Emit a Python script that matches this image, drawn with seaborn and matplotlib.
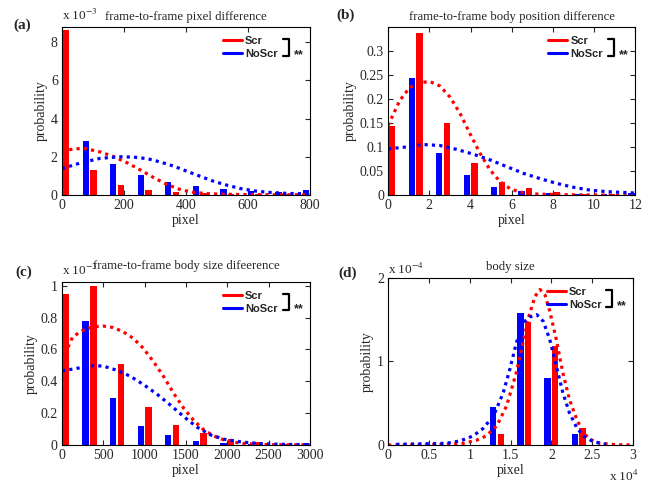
import numpy as np
import matplotlib
matplotlib.use("Agg")
import matplotlib.pyplot as plt
from matplotlib.lines import Line2D
import seaborn as sns

RED = "#ff0000"
BLUE = "#0000ff"

# (a) frame-to-frame pixel difference, probability in units of 1e-3
bins_a = [0, 88.9, 177.8, 266.7, 355.6, 444.4, 533.3, 622.2, 711.1, 800]
scr_a = [8.65, 1.31, 0.54, 0.26, 0.17, 0.08, 0.06, 0.05, 0.04, 0.03]
noscr_a = [0.0, 2.85, 1.60, 1.03, 0.70, 0.49, 0.31, 0.23, 0.15, 0.24]
fit_scr_a_x = [0, 35, 70, 124, 168, 211, 254, 297, 340, 384, 427, 470, 520, 600, 700, 800]
fit_scr_a_y = [2.30, 2.40, 2.45, 2.25, 2.00, 1.68, 1.30, 0.90, 0.54, 0.27, 0.13, 0.07, 0.04, 0.02, 0.01, 0.01]
fit_noscr_a_x = [0, 60, 124, 189, 232, 276, 319, 362, 405, 449, 492, 535, 578, 622, 665, 730, 800]
fit_noscr_a_y = [1.38, 1.68, 1.92, 2.00, 1.98, 1.90, 1.72, 1.50, 1.23, 0.96, 0.70, 0.50, 0.33, 0.21, 0.14, 0.08, 0.06]

# (b) frame-to-frame body position difference
bins_b = [0, 1.333, 2.667, 4.0, 5.333, 6.667, 8.0, 9.333, 10.667, 12]
scr_b = [0.143, 0.338, 0.150, 0.066, 0.027, 0.014, 0.006, 0.003, 0.002, 0.0]
noscr_b = [0.0, 0.243, 0.088, 0.042, 0.017, 0.009, 0.004, 0.003, 0.002, 0.004]
fit_scr_b_x = [0, 0.57, 1.05, 1.54, 2.03, 2.51, 3.0, 3.49, 3.97, 4.46, 4.95, 5.43, 5.92, 6.4, 7.2, 8.5, 10, 12]
fit_scr_b_y = [0.145, 0.197, 0.224, 0.234, 0.236, 0.227, 0.204, 0.170, 0.128, 0.087, 0.052, 0.028, 0.013, 0.006, 0.002, 0.0005, 0.0, 0.0]
fit_noscr_b_x = [0, 0.89, 1.7, 2.51, 3.32, 4.13, 4.95, 5.76, 6.57, 7.38, 8.19, 9.0, 9.81, 10.6, 12]
fit_noscr_b_y = [0.096, 0.100, 0.105, 0.103, 0.095, 0.085, 0.073, 0.059, 0.045, 0.034, 0.024, 0.016, 0.010, 0.007, 0.004]

# (c) frame-to-frame body size difference, units of 1e-3
bins_c = [0, 333.3, 666.7, 1000, 1333.3, 1666.7, 2000, 2333.3, 2666.7, 3000]
scr_c = [0.95, 1.00, 0.508, 0.24, 0.127, 0.073, 0.037, 0.017, 0.008, 0.0]
noscr_c = [0.0, 0.78, 0.293, 0.121, 0.061, 0.027, 0.010, 0.005, 0.003, 0.010]
fit_scr_c_x = [0, 130, 252, 375, 497, 619, 741, 863, 985, 1108, 1230, 1352, 1474, 1596, 1718, 1840, 1963, 2166, 2492, 3000]
fit_scr_c_y = [0.53, 0.68, 0.72, 0.743, 0.747, 0.738, 0.711, 0.67, 0.607, 0.523, 0.43, 0.324, 0.23, 0.153, 0.094, 0.056, 0.031, 0.01, 0.002, 0.0]
fit_noscr_c_x = [0, 171, 334, 497, 660, 822, 985, 1148, 1311, 1474, 1637, 1800, 1963, 2166, 2410, 2695, 3000]
fit_noscr_c_y = [0.466, 0.48, 0.498, 0.496, 0.47, 0.433, 0.38, 0.32, 0.251, 0.178, 0.111, 0.063, 0.036, 0.019, 0.008, 0.004, 0.002]

# (d) body size, x in units of 1e4, probability in units of 1e-4
bins_d = [0, 0.333, 0.667, 1.0, 1.333, 1.667, 2.0, 2.333, 2.667, 3.0]
scr_d = [0, 0, 0, 0, 0.127, 1.47, 1.19, 0.207, 0, 0]
noscr_d = [0, 0, 0, 0, 0.454, 1.574, 0.797, 0.127, 0, 0]
fit_scr_d_x = [0, 0.5, 0.918, 1.08, 1.2, 1.33, 1.45, 1.57, 1.65, 1.73, 1.8, 1.86, 1.92, 1.98, 2.06, 2.14, 2.22, 2.31, 2.39, 2.47, 2.59, 2.8, 3.0]
fit_scr_d_y = [0, 0, 0.02, 0.056, 0.108, 0.227, 0.466, 0.865, 1.22, 1.56, 1.78, 1.86, 1.80, 1.60, 1.26, 0.865, 0.546, 0.307, 0.147, 0.068, 0.02, 0.003, 0]
fit_noscr_d_x = [0.1, 0.71, 0.88, 1.04, 1.16, 1.29, 1.41, 1.49, 1.57, 1.65, 1.73, 1.82, 1.9, 1.98, 2.06, 2.14, 2.22, 2.31, 2.39, 2.51, 2.67]
fit_noscr_d_y = [0.008, 0.02, 0.048, 0.108, 0.195, 0.347, 0.625, 0.904, 1.22, 1.46, 1.53, 1.56, 1.48, 1.26, 0.944, 0.625, 0.386, 0.207, 0.108, 0.04, 0.008]

sns.set_style("ticks")
plt.rcParams["font.family"] = ["Liberation Serif", "DejaVu Serif"]
plt.rcParams["mathtext.fontset"] = "stix"
plt.rcParams["font.size"] = 10


def draw_panel(ax, bins, scr, noscr, fit_s, fit_n, xlim, ylim, xticks, yticks, title, title_pad):
    step = bins[1] - bins[0]
    b = np.array(bins)
    ax.bar(b - 0.14 * step, noscr, width=0.23 * step, color=BLUE, linewidth=0)
    ax.bar(b + 0.14 * step, scr, width=0.23 * step, color=RED, linewidth=0)
    dots = (0, (1, 1.3))
    sns.lineplot(x=fit_s[0], y=fit_s[1], ax=ax, color=RED, lw=2.3, linestyle=dots)
    sns.lineplot(x=fit_n[0], y=fit_n[1], ax=ax, color=BLUE, lw=2.3, linestyle=dots)
    ax.set_xlim(*xlim)
    ax.set_ylim(*ylim)
    ax.set_xticks(xticks)
    ax.set_yticks(yticks)
    ax.set_xticklabels([f"{t:g}" for t in xticks])
    ax.set_yticklabels([f"{t:g}" for t in yticks])
    ax.set_xlabel("pixel", labelpad=1)
    ax.set_ylabel("probability", labelpad=2)
    ax.set_title(title, pad=title_pad, fontsize=9.2)
    ax.tick_params(direction="in", length=3.5, width=0.8, top=True, right=True, pad=3)
    for s in ax.spines.values():
        s.set_linewidth(0.8)
        s.set_color("black")

    # legend with significance bracket
    handles = [Line2D([], [], color=RED, lw=2.2), Line2D([], [], color=BLUE, lw=2.2)]
    ax.legend(handles, ["Scr", "NoScr"], loc="upper left", bbox_to_anchor=(0.648, 0.945),
              frameon=False, handlelength=1.7, handletextpad=0.3, labelspacing=0.25,
              borderaxespad=0, borderpad=0,
              prop={"family": "Liberation Sans", "weight": "bold", "size": 8})
    ax.plot([0.891, 0.915, 0.915, 0.891], [0.925, 0.925, 0.825, 0.825], transform=ax.transAxes,
            color="black", lw=1.6, clip_on=False)
    ax.text(0.954, 0.83, "**", transform=ax.transAxes, ha="center", va="center",
            fontsize=9, fontweight="bold", family="Liberation Sans")


fig = plt.figure(figsize=(6.49, 4.93), dpi=100)
ax_a = fig.add_axes([0.0955, 0.6045, 0.382, 0.341])
ax_b = fig.add_axes([0.598, 0.6045, 0.381, 0.341])
ax_c = fig.add_axes([0.0955, 0.0974, 0.382, 0.331])
ax_d = fig.add_axes([0.598, 0.0974, 0.3775, 0.339])

draw_panel(ax_a, bins_a, scr_a, noscr_a, (fit_scr_a_x, fit_scr_a_y), (fit_noscr_a_x, fit_noscr_a_y),
           (0, 800), (0, 8.8), [0, 200, 400, 600, 800], [0, 2, 4, 6, 8],
           "frame-to-frame pixel difference", 5)
draw_panel(ax_b, bins_b, scr_b, noscr_b, (fit_scr_b_x, fit_scr_b_y), (fit_noscr_b_x, fit_noscr_b_y),
           (0, 12), (0, 0.35), [0, 2, 4, 6, 8, 10, 12], [0, 0.05, 0.1, 0.15, 0.2, 0.25, 0.3],
           "frame-to-frame body position difference", 5)
draw_panel(ax_c, bins_c, scr_c, noscr_c, (fit_scr_c_x, fit_scr_c_y), (fit_noscr_c_x, fit_noscr_c_y),
           (0, 3000), (0, 1.025), [0, 500, 1000, 1500, 2000, 2500, 3000], [0, 0.2, 0.4, 0.6, 0.8, 1],
           "frame-to-frame body size difeerence", 9)
draw_panel(ax_d, bins_d, scr_d, noscr_d, (fit_scr_d_x, fit_scr_d_y), (fit_noscr_d_x, fit_noscr_d_y),
           (0, 3), (0, 2), [0, 0.5, 1, 1.5, 2, 2.5, 3], [0, 1, 2],
           "body size", 6)

# MATLAB-style exponent labels
ax_a.text(0.0, 1.065, r"x 10$^{-3}$", transform=ax_a.transAxes, ha="left", va="center", fontsize=9.5)
ax_c.text(0.0, 1.07, r"x 10$^{-3}$", transform=ax_c.transAxes, ha="left", va="center", fontsize=9.5)
ax_d.text(0.0, 1.05, r"x 10$^{-4}$", transform=ax_d.transAxes, ha="left", va="center", fontsize=9.5)
ax_d.text(0.90, -0.19, r"x 10$^{4}$", transform=ax_d.transAxes, ha="left", va="center", fontsize=9.5)

for lbl, x, y in [("(a)", 0.02, 0.949), ("(b)", 0.519, 0.97), ("(c)", 0.023, 0.448), ("(d)", 0.521, 0.446)]:
    fig.text(x, y, lbl, fontsize=11, fontweight="bold", va="center")

fig.savefig("out.png", dpi=100)
